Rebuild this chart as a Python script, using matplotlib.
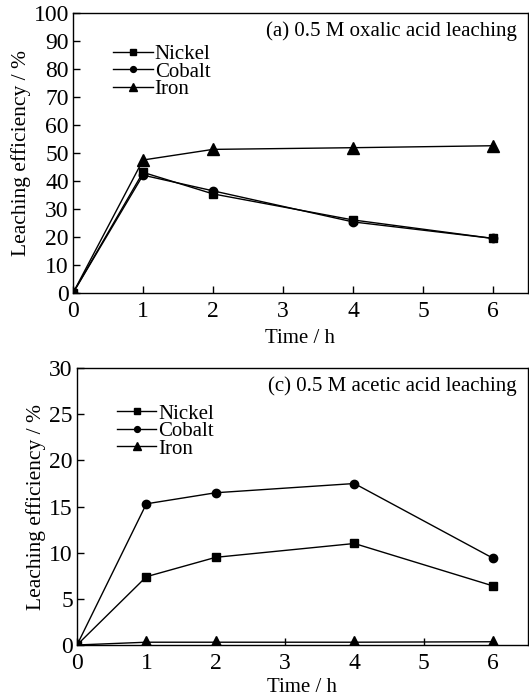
import matplotlib
matplotlib.use("Agg")
import matplotlib.pyplot as plt

plt.rcParams['font.family'] = ['Liberation Serif', 'DejaVu Serif']

time_h = [0, 1, 2, 4, 6]

# (a) oxalic acid
ox_nickel = [0, 43.1, 35.4, 26.1, 19.5]
ox_cobalt = [0, 42.1, 36.5, 25.4, 19.5]
ox_iron = [0, 47.5, 51.3, 51.9, 52.6]

# (c) acetic acid
ac_nickel = [0, 7.4, 9.5, 11.0, 6.4]
ac_cobalt = [0, 15.3, 16.5, 17.5, 9.4]
ac_iron = [0, 0.3, 0.3, 0.3, 0.35]

series_names = ['Nickel', 'Cobalt', 'Iron']
fs = 15

fig = plt.figure(figsize=(5.29, 7.0), dpi=100)
ax1 = fig.add_axes([0.138, 0.5814, 0.860, 0.400])
ax2 = fig.add_axes([0.1456, 0.0786, 0.852, 0.3954])


def draw(ax, nickel, cobalt, iron, ymax, ystep, title, legend_y, xpad):
    ax.plot(time_h, nickel, color='black', lw=1, marker='s', markersize=6, label=series_names[0])
    ax.plot(time_h, cobalt, color='black', lw=1, marker='o', markersize=6, label=series_names[1])
    ax.plot(time_h, iron, color='black', lw=1, marker='^', markersize=8, label=series_names[2])
    ax.set_xlim(0, 6.5)
    ax.set_ylim(0, ymax)
    ax.set_xticks(range(0, 7))
    ax.set_yticks(range(0, ymax + 1, ystep))
    ax.tick_params(direction='in', length=5, width=1, labelsize=17, pad=3)
    ax.tick_params(axis='x', pad=6)
    ax.set_xlabel('Time / h', fontsize=fs, labelpad=xpad)
    ax.set_ylabel('Leaching efficiency / %', fontsize=15.5, labelpad=2)
    for s in ax.spines.values():
        s.set_linewidth(1)
    ax.text(0.975, 0.935, title, transform=ax.transAxes, ha='right', va='center', fontsize=fs)
    ax.legend(loc='upper left', bbox_to_anchor=(0.065, legend_y), frameon=False, fontsize=fs,
              handlelength=1.9, handletextpad=0.1, labelspacing=-0.1, borderpad=0,
              markerscale=0.7)


draw(ax1, ox_nickel, ox_cobalt, ox_iron, 100, 10, '(a) 0.5 M oxalic acid leaching', 0.925, 5)
draw(ax2, ac_nickel, ac_cobalt, ac_iron, 30, 5, '(c) 0.5 M acetic acid leaching', 0.908, 3)

fig.savefig('out.png', dpi=100)
